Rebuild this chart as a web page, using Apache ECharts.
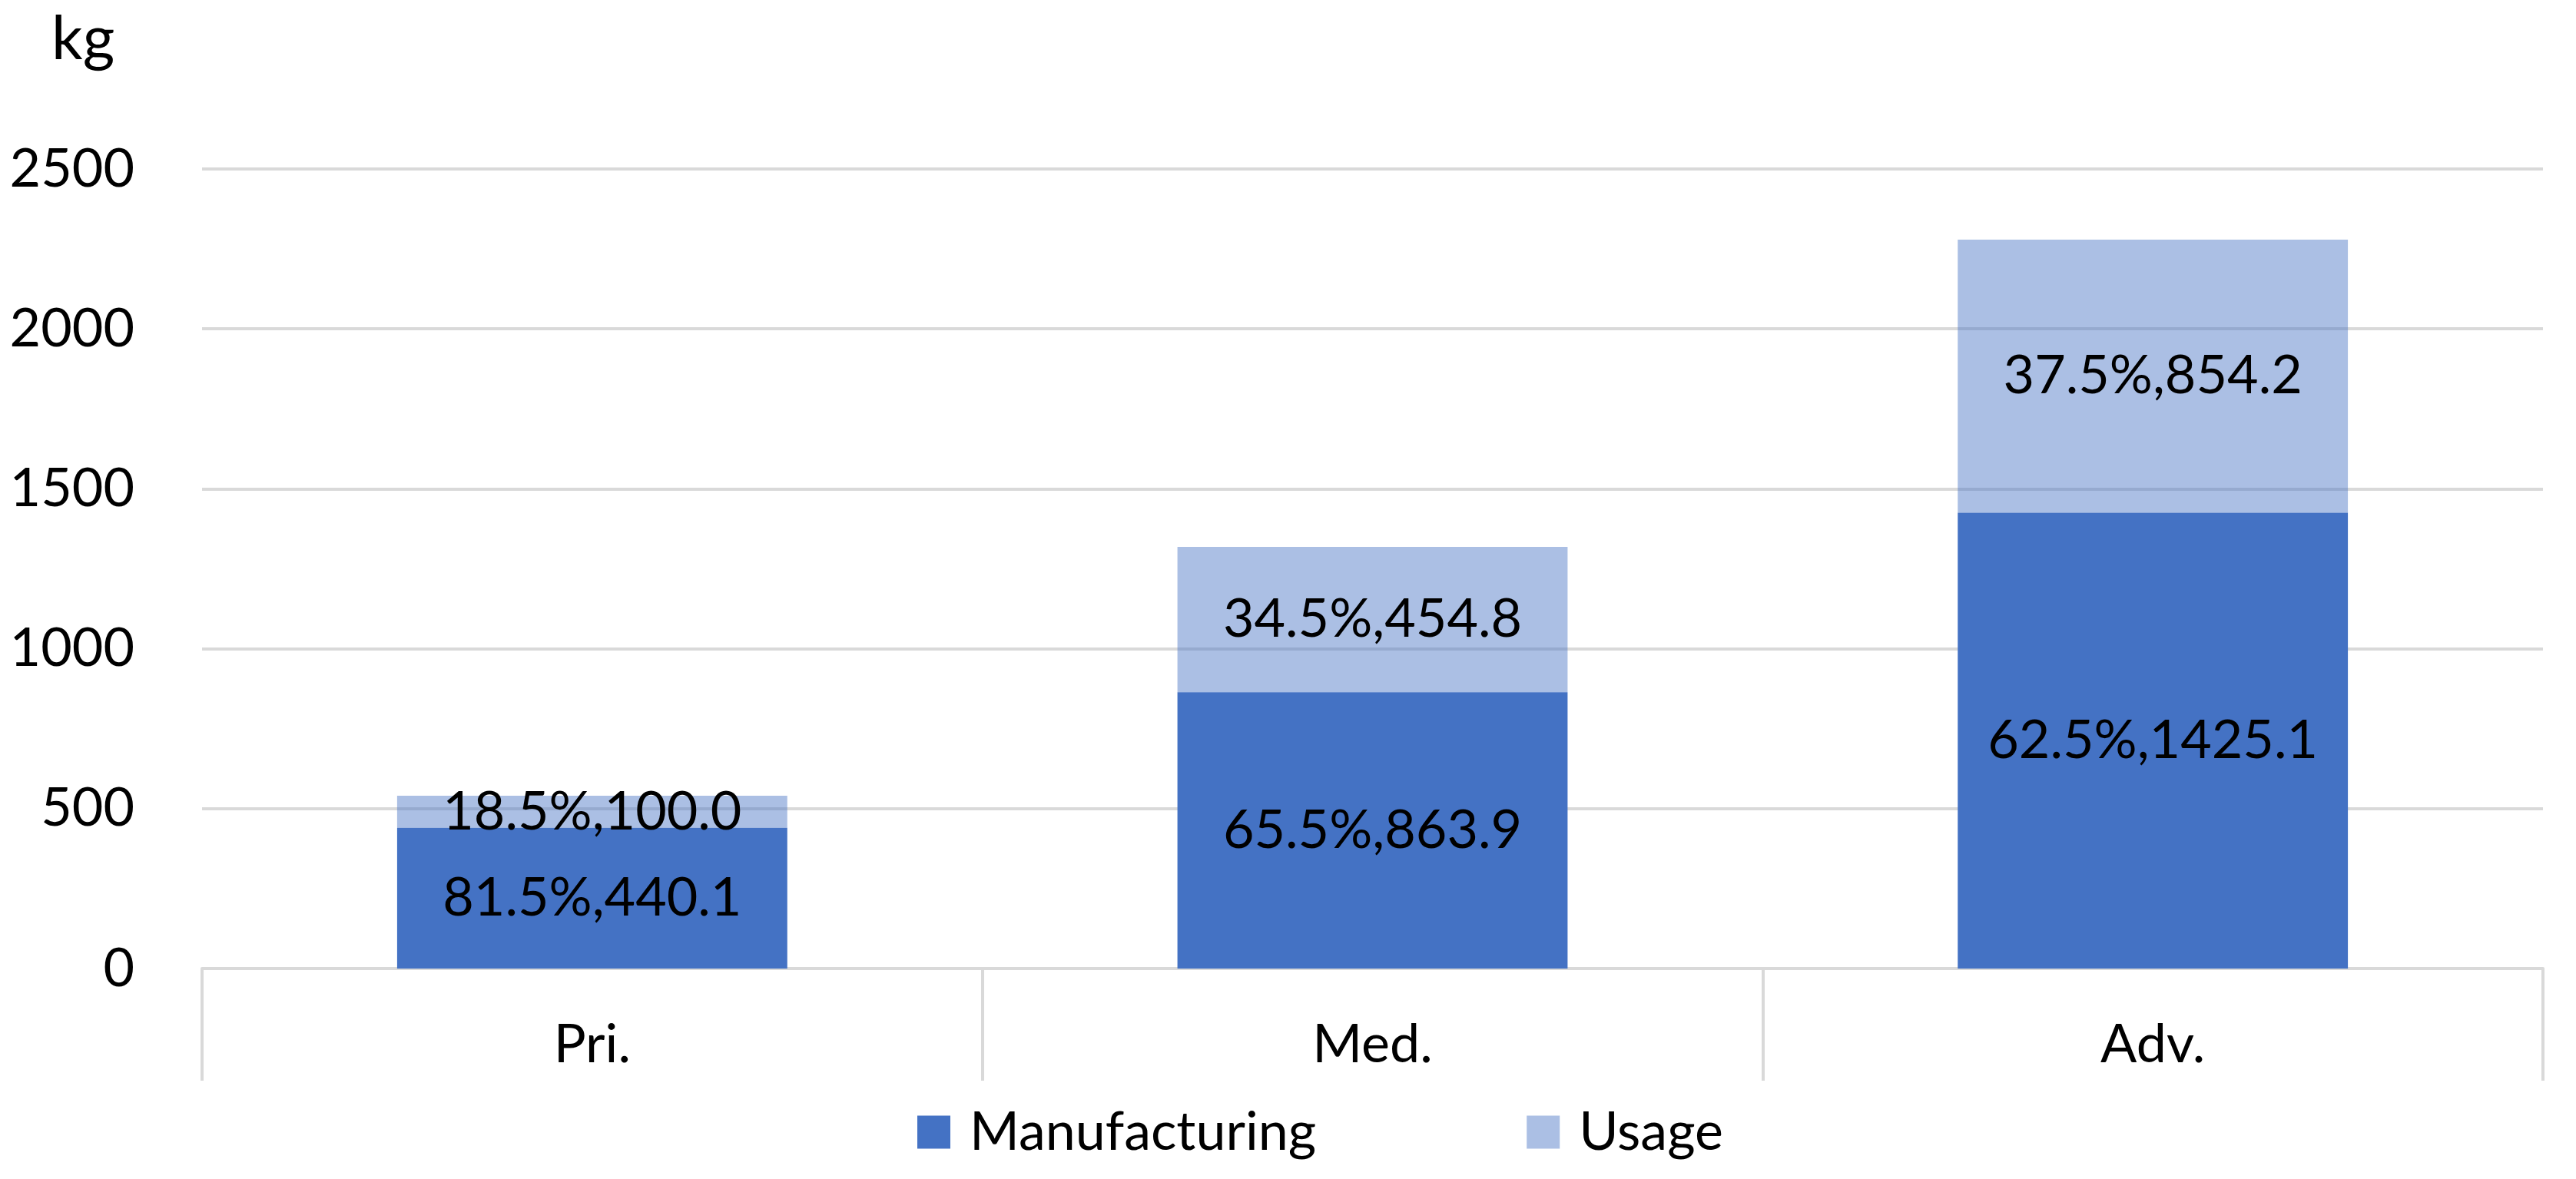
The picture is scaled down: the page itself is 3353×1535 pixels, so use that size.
<!DOCTYPE html>
<html>
<head>
<meta charset="utf-8">
<script src="https://cdn.jsdelivr.net/npm/echarts@6/dist/echarts.min.js"></script>
<style>
html,body{margin:0;padding:0;background:#fff;}
#chart{width:3353px;height:1535px;}
</style>
</head>
<body>
<div id="chart"></div>
<script>
var categories = ['Pri.', 'Med.', 'Adv.'];
var manufacturing = [440.1, 863.9, 1425.1];
var usage = [100.0, 454.8, 854.2];
var manufacturingPct = ['81.5%', '65.5%', '62.5%'];
var usagePct = ['18.5%', '34.5%', '37.5%'];
var yTicks = [0, 500, 1000, 1500, 2000, 2500];

var FONT = 'Lato';
var FS = 70;

var chart = echarts.init(document.getElementById('chart'), null, {renderer: 'canvas'});
chart.setOption({
  backgroundColor: '#ffffff',
  animation: false,
  title: {
    text: 'kg',
    left: 62,
    top: 6,
    textStyle: {fontFamily: FONT, fontSize: 80, fontWeight: 'normal', color: '#000'}
  },
  legend: {
    data: ['Manufacturing', 'Usage'],
    left: 1189,
    top: 1434,
    itemWidth: 43,
    itemHeight: 43,
    itemGap: 274,
    icon: 'rect',
    textStyle: {fontFamily: FONT, fontSize: FS, color: '#000', padding: [0, 0, 0, 20]}
  },
  grid: {left: 263, right: 43, top: 220, bottom: 274, containLabel: false},
  xAxis: {
    type: 'category',
    data: categories,
    boundaryGap: true,
    axisLine: {show: true, lineStyle: {color: '#D9D9D9', width: 4}},
    axisTick: {show: true, length: 146, alignWithLabel: false, lineStyle: {color: '#D9D9D9', width: 4}},
    axisLabel: {fontFamily: FONT, fontSize: FS, color: '#000', margin: 64}
  },
  yAxis: {
    type: 'value',
    min: yTicks[0],
    max: yTicks[yTicks.length - 1],
    interval: 500,
    axisLine: {show: false},
    axisTick: {show: false},
    splitLine: {show: true, lineStyle: {color: '#D9D9D9', width: 4}},
    axisLabel: {fontFamily: FONT, fontSize: FS, color: '#000', margin: 88,
      formatter: function (v) { return String(v); }}
  },
  series: [
    {
      name: 'Manufacturing',
      type: 'bar',
      stack: 'total',
      barWidth: '50%',
      data: manufacturing,
      itemStyle: {color: '#4472C4'},
      label: {
        show: true,
        position: 'inside',
        fontFamily: FONT,
        fontSize: FS,
        color: '#000',
        formatter: function (p) { return manufacturingPct[p.dataIndex] + ',' + manufacturing[p.dataIndex].toFixed(1); }
      }
    },
    {
      name: 'Usage',
      type: 'bar',
      stack: 'total',
      barWidth: '50%',
      data: usage,
      itemStyle: {color: 'rgba(68,114,196,0.45)'},
      label: {
        show: true,
        position: 'inside',
        fontFamily: FONT,
        fontSize: FS,
        color: '#000',
        formatter: function (p) { return usagePct[p.dataIndex] + ',' + usage[p.dataIndex].toFixed(1); }
      }
    }
  ]
});
</script>
</body>
</html>
